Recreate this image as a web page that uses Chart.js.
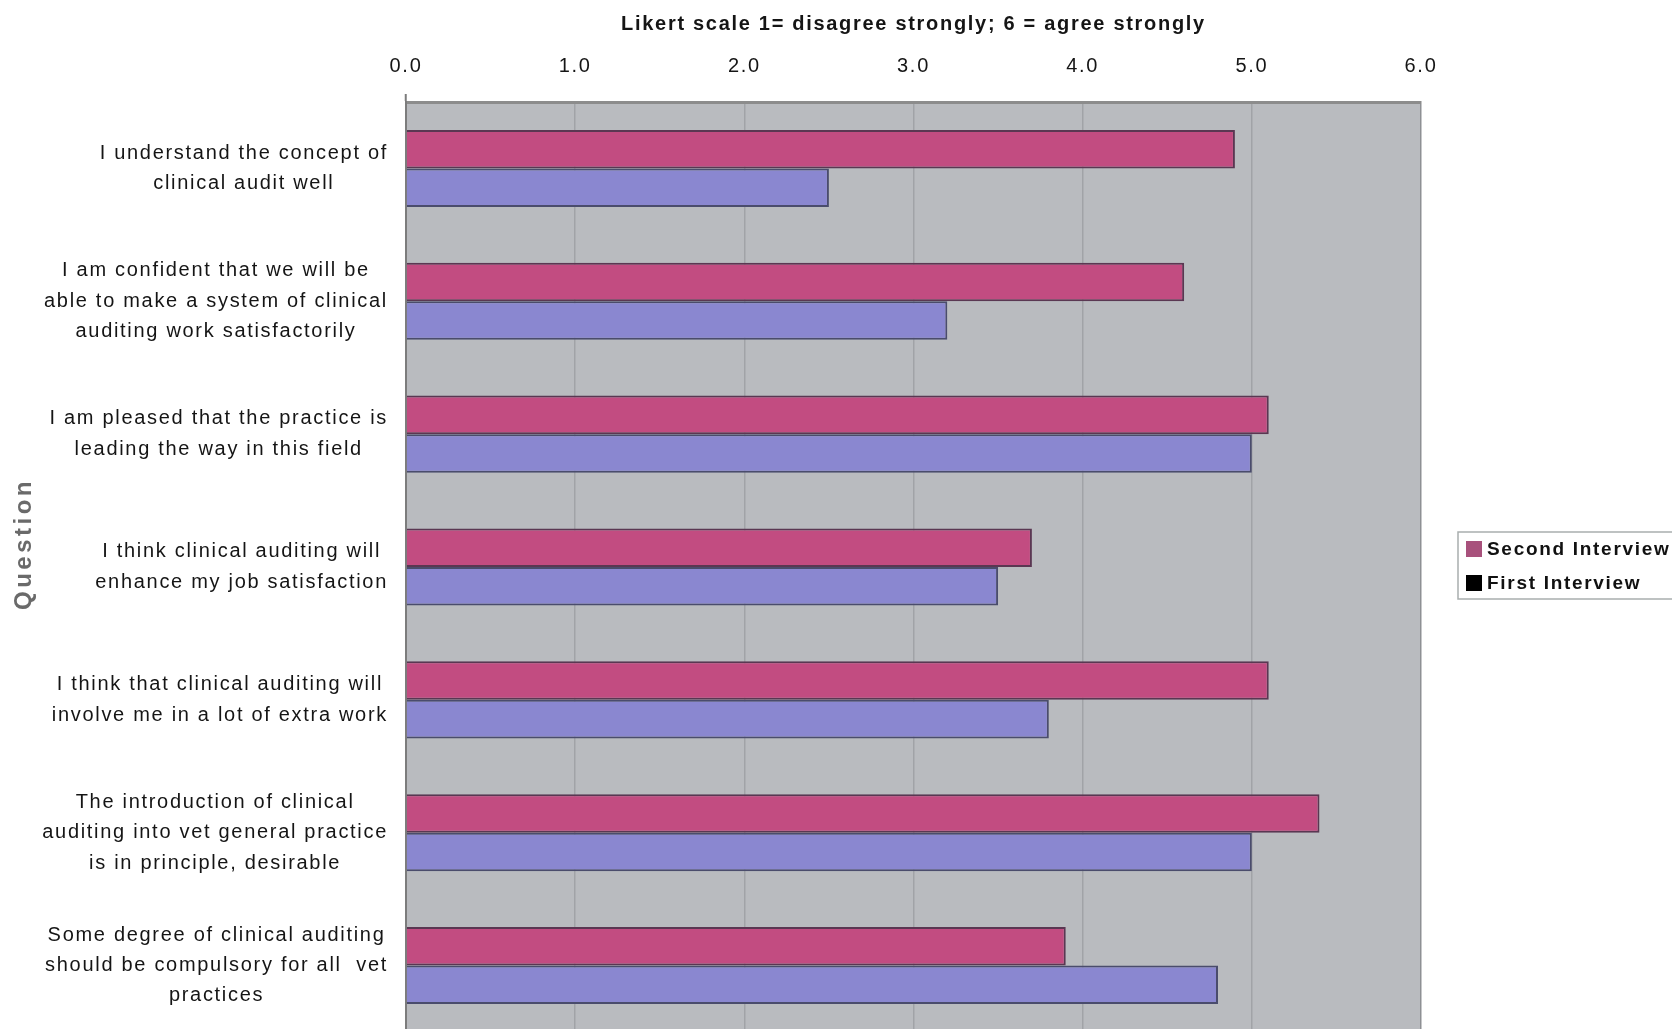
<!DOCTYPE html>
<html>
<head>
<meta charset="utf-8">
<script src="https://cdn.jsdelivr.net/npm/chart.js@4.4.1/dist/chart.umd.min.js"></script>
<style>
  html, body { margin: 0; padding: 0; background: #ffffff; overflow: hidden; }
  #wrap { width: 1672px; height: 1029px; overflow: hidden; }
  canvas { display: block; }
</style>
</head>
<body>
<div id="wrap"><canvas id="chart" width="1672" height="1040"></canvas></div>
<script>
// Survey statements, top to bottom (each entry is the wrapped label lines)
const questions = [
  ['I understand the concept of', 'clinical audit well'],
  ['I am confident that we will be', 'able to make a system of clinical', 'auditing work satisfactorily'],
  ['I am pleased that the practice is', 'leading the way in this field'],
  ['I think clinical auditing will', 'enhance my job satisfaction'],
  ['I think that clinical auditing will', 'involve me in a lot of extra work'],
  ['The introduction of clinical', 'auditing into vet general practice', 'is in principle, desirable'],
  ['Some degree of clinical auditing', 'should be compulsory for all  vet', 'practices']
];

// Mean Likert scores per statement
const secondInterview = [4.9, 4.6, 5.1, 3.7, 5.1, 5.4, 3.9];
const firstInterview  = [2.5, 3.2, 5.0, 3.5, 3.8, 5.0, 4.8];

const seriesNames = ['Second Interview', 'First Interview'];
const xTickLabels = ['0.0', '1.0', '2.0', '3.0', '4.0', '5.0', '6.0'];
const axisTitleY = 'Question';

const FONT = '"Liberation Sans", Arial, Helvetica, sans-serif';
const PINK = '#c24c81';
const BLUE = '#8a87d0';
const legendSwatches = ['#a8517c', '#000000'];

// Wide tracking for all canvas text
const tracking = {
  id: 'tracking',
  beforeUpdate(c) { c.ctx.letterSpacing = '1.7px'; },
  beforeLayout(c) { c.ctx.letterSpacing = '1.7px'; },
  beforeDraw(c) { c.ctx.letterSpacing = '1.7px'; }
};

// Grey plot area
const plotBg = {
  id: 'plotBg',
  beforeDraw(c) {
    const { ctx, chartArea: a } = c;
    ctx.save();
    ctx.fillStyle = '#b9bbbf';
    ctx.fillRect(a.left, a.top, a.right - a.left, a.bottom - a.top);
    ctx.restore();
  }
};

// Statement labels: each block right-aligned to the axis, its lines centred within the block
const questionLabels = {
  id: 'questionLabels',
  afterDraw(c) {
    const { ctx, chartArea: a } = c;
    const yScale = c.scales.y;
    ctx.save();
    ctx.letterSpacing = '1.7px';
    ctx.font = '20px ' + FONT;
    ctx.fillStyle = '#151515';
    ctx.textAlign = 'center';
    ctx.textBaseline = 'middle';
    const lh = 30.4;
    const right = a.left - 18;
    questions.forEach((lines, i) => {
      const y0 = yScale.getPixelForTick(i) - (lines.length - 1) * lh / 2;
      const w = Math.max(...lines.map(l => ctx.measureText(l).width));
      const cx = right - w / 2;
      lines.forEach((l, k) => ctx.fillText(l, cx, y0 + k * lh));
    });

    // rotated axis title
    const cy = (a.top + a.bottom) / 2;
    ctx.translate(yScale.left + 24, cy - 23);
    ctx.rotate(-Math.PI / 2);
    ctx.letterSpacing = '3.5px';
    ctx.font = 'bold 24px ' + FONT;
    ctx.fillStyle = '#6a6a6a';
    ctx.fillText(axisTitleY, 0, 0);
    ctx.restore();
  }
};

// Boxed legend to the right of the plot
const boxLegend = {
  id: 'boxLegend',
  afterDraw(c) {
    const { ctx, chartArea: a } = c;
    const cy = (a.top + a.bottom) / 2;
    const left = a.right + 37;
    ctx.save();
    ctx.strokeStyle = '#a9aeae';
    ctx.lineWidth = 1.5;
    ctx.strokeRect(left, cy - 35, 260, 67);
    ctx.letterSpacing = '1.7px';
    ctx.font = 'bold 19px ' + FONT;
    ctx.textBaseline = 'middle';
    ctx.textAlign = 'left';
    seriesNames.forEach((name, i) => {
      const y = cy - 18 + i * 34;
      ctx.fillStyle = legendSwatches[i];
      ctx.fillRect(left + 8, y - 8, 16, 16);
      ctx.fillStyle = '#111111';
      ctx.fillText(name, left + 29, y + 1);
    });
    ctx.restore();
  }
};

new Chart(document.getElementById('chart'), {
  type: 'bar',
  data: {
    labels: questions,
    datasets: [
      {
        label: seriesNames[0],
        data: secondInterview,
        backgroundColor: PINK,
        borderColor: '#5a3752',
        borderWidth: 2,
        categoryPercentage: 0.58,
        barPercentage: 1
      },
      {
        label: seriesNames[1],
        data: firstInterview,
        backgroundColor: BLUE,
        borderColor: '#4a4c6c',
        borderWidth: 2,
        categoryPercentage: 0.58,
        barPercentage: 1
      }
    ]
  },
  options: {
    indexAxis: 'y',
    responsive: false,
    animation: false,
    devicePixelRatio: 1,
    layout: { padding: { left: 0, top: 0, right: 251, bottom: 8 } },
    plugins: {
      legend: { display: false },
      tooltip: { enabled: false }
    },
    scales: {
      x: {
        position: 'top',
        min: 0,
        max: 6,
        afterFit(s) { s.height = 102; },
        ticks: {
          stepSize: 1,
          padding: 16,
          color: '#151515',
          font: { family: FONT, size: 20 },
          callback: (v) => xTickLabels[v]
        },
        grid: {
          drawTicks: true,
          tickLength: 8,
          tickWidth: 2,
          tickColor: (ctx) => (ctx.tick && ctx.tick.value === 0) ? '#7c7c7c' : 'rgba(0,0,0,0)',
          lineWidth: 1.5,
          color: (ctx) => (ctx.tick && ctx.tick.value === 6) ? '#8e9094' : '#a1a3a7'
        },
        border: { display: true, color: '#8c8c8c', width: 3 },
        title: {
          display: true,
          text: 'Likert scale 1= disagree strongly; 6 = agree strongly',
          color: '#151515',
          font: { family: FONT, size: 20, weight: 'bold' },
          padding: { top: 12, bottom: 0 }
        }
      },
      y: {
        afterFit(s) { s.width = 406; },
        ticks: { display: false },
        grid: { display: false, drawTicks: false },
        border: { display: true, color: '#7c7c7c', width: 2 },
        title: { display: false }
      }
    }
  },
  plugins: [tracking, plotBg, questionLabels, boxLegend]
});
</script>
</body>
</html>
